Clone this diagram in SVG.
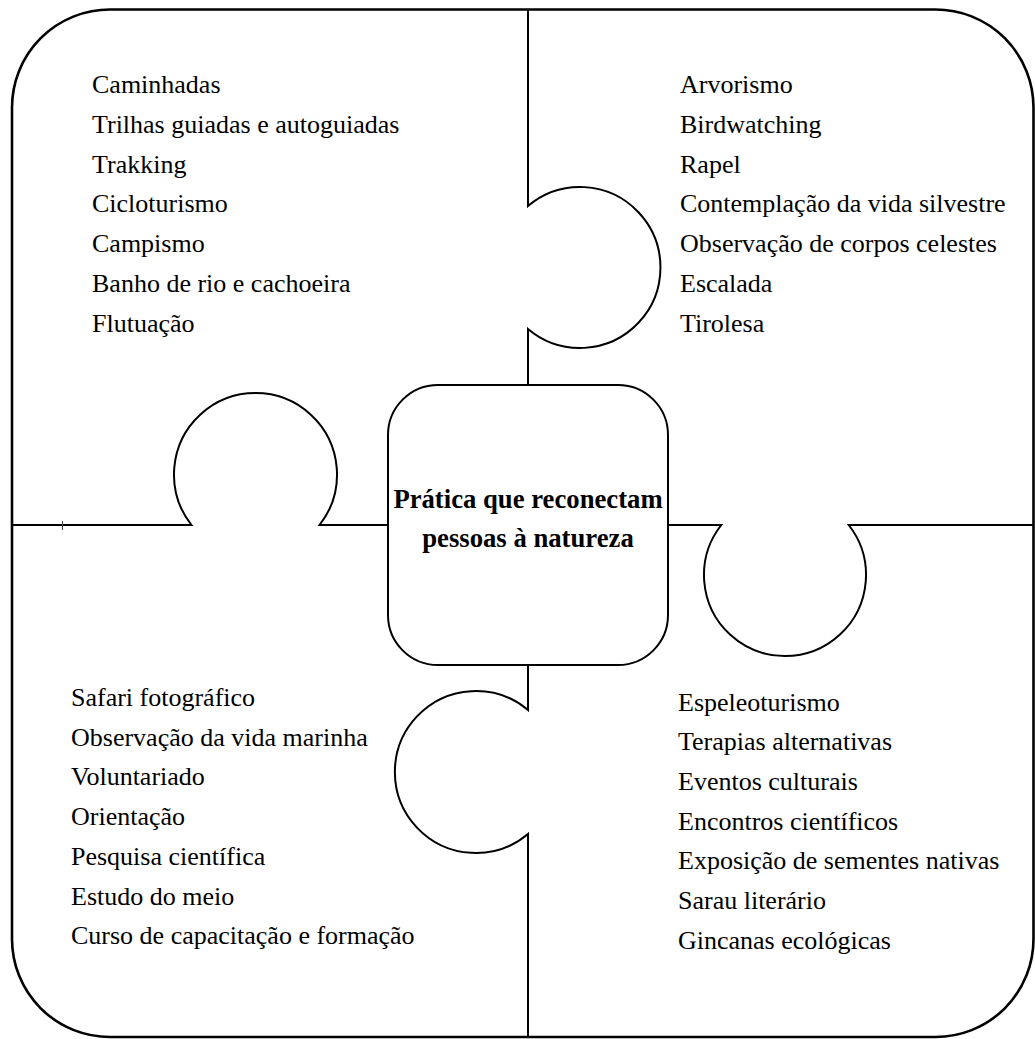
<svg xmlns="http://www.w3.org/2000/svg" width="1035" height="1039" viewBox="0 0 1035 1039">
<style>
.ln{fill:none;stroke:#000;stroke-width:2}
.outer{fill:#fff;stroke:#000;stroke-width:2.6}
.lst{font-family:"Liberation Serif","Times New Roman",serif;font-size:26px;fill:#000}
.ctr{font-family:"Liberation Serif","Times New Roman",serif;font-size:26.7px;font-weight:700;fill:#000;text-anchor:middle}
</style>
<rect width="1035" height="1039" fill="#fff"/>
<g id="frame">
<rect class="outer" x="12" y="9.5" width="1021.5" height="1027.5" rx="98" ry="98"/>
</g>
<g id="connectors">
<path class="ln" d="M528,9.5 V206 A80.5,80.5 0 1 1 528,329 V385"/>
<path class="ln" d="M12,525 H191.5 A81.5,81.5 0 1 1 319.5,525 H388"/>
<path class="ln" d="M668,525 H721.3 A81,81 0 1 0 848.7,525 H1033.5"/>
<path class="ln" d="M528,665 V710 A81,81 0 1 0 528,834 V1037"/>
<line x1="62.5" y1="521" x2="62.5" y2="530" stroke="#444" stroke-width="1"/>
</g>
<g id="center">
<rect x="388" y="385" width="280" height="280" rx="50" ry="50" fill="#fff" stroke="#000" stroke-width="2"/>
<text class="ctr" x="528" y="508">Prática que reconectam</text>
<text class="ctr" x="528" y="547">pessoas à natureza</text>
</g>
<g id="top-left" class="lst">
<text x="92" y="93.3">Caminhadas</text>
<text x="92" y="133">Trilhas guiadas e autoguiadas</text>
<text x="92" y="172.7">Trakking</text>
<text x="92" y="212.4">Cicloturismo</text>
<text x="92" y="252.1">Campismo</text>
<text x="92" y="291.8">Banho de rio e cachoeira</text>
<text x="92" y="331.5">Flutuação</text>
</g>
<g id="top-right" class="lst">
<text x="680" y="93.3">Arvorismo</text>
<text x="680" y="133">Birdwatching</text>
<text x="680" y="172.7">Rapel</text>
<text x="680" y="212.4">Contemplação da vida silvestre</text>
<text x="680" y="252.1">Observação de corpos celestes</text>
<text x="680" y="291.8">Escalada</text>
<text x="680" y="331.5">Tirolesa</text>
</g>
<g id="bottom-left" class="lst">
<text x="71" y="706">Safari fotográfico</text>
<text x="71" y="745.7">Observação da vida marinha</text>
<text x="71" y="785.4">Voluntariado</text>
<text x="71" y="825.1">Orientação</text>
<text x="71" y="864.8">Pesquisa científica</text>
<text x="71" y="904.5">Estudo do meio</text>
<text x="71" y="944.2">Curso de capacitação e formação</text>
</g>
<g id="bottom-right" class="lst">
<text x="678" y="710.5">Espeleoturismo</text>
<text x="678" y="750.2">Terapias alternativas</text>
<text x="678" y="789.9">Eventos culturais</text>
<text x="678" y="829.6">Encontros científicos</text>
<text x="678" y="869.3">Exposição de sementes nativas</text>
<text x="678" y="909">Sarau literário</text>
<text x="678" y="948.7">Gincanas ecológicas</text>
</g>
</svg>
